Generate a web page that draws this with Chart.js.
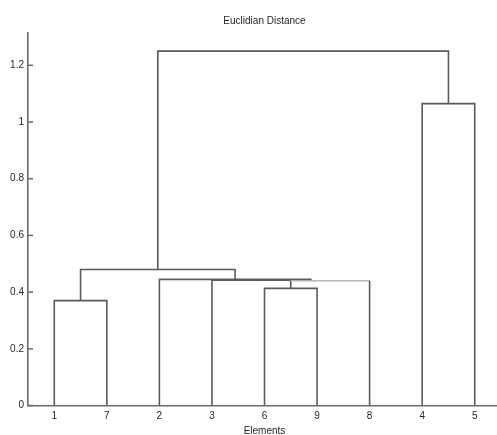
<!DOCTYPE html>
<html>
<head>
<meta charset="utf-8">
<script src="https://cdn.jsdelivr.net/npm/chart.js@4.4.1/dist/chart.umd.min.js"></script>
<style>
  html, body { margin: 0; padding: 0; background: #fff; overflow: hidden; }
  #wrap { width: 501px; height: 435px; }
</style>
</head>
<body>
<div id="wrap"><canvas id="dendro" width="501" height="435"></canvas></div>
<script>
// leaf order along the x axis
const leaves = ["1", "7", "2", "3", "6", "9", "8", "4", "5"];

// one entry per link (U shape): left leg, right leg, merge height, leg bottoms
const linkLeftX = [1, 5, 5.5, 4, 3, 1.5, 8, 2.97];
const linkRightX = [2, 6, 7, 5.88, 5.88, 4.44, 9, 8.5];
const linkHeight = [0.37, 0.413, 0.44, 0.442, 0.445, 0.48, 1.065, 1.25];
const linkLeftBase = [0, 0, 0.413, 0, 0, 0.37, 0, 0.48];
const linkRightBase = [0, 0, 0, 0.44, 0.442, 0.445, 0, 1.065];

const yTicks = [0, 0.2, 0.4, 0.6, 0.8, 1, 1.2];

const lineColor = "#5a5a5a";
const axisColor = "#6a6a6a";
const textColor = "#262626";
const fontFamily = "'Liberation Sans', Arial, sans-serif";

var datasets = linkHeight.map(function (h, i) {
  return {
    data: [
      { x: linkLeftX[i], y: linkLeftBase[i] },
      { x: linkLeftX[i], y: h },
      { x: linkRightX[i], y: h },
      { x: linkRightX[i], y: linkRightBase[i] },
    ],
    showLine: true,
    borderColor: lineColor,
    borderWidth: 1.6,
    pointRadius: 0,
    tension: 0,
    segment: {
      // the (6,9)-8 bar is drawn lighter in the picture
      borderColor: function (ctx) {
        return i === 2 && ctx.p0DataIndex === 1 ? "#b4b4b4" : lineColor;
      },
    },
  };
});

// small inward tick marks on the y axis, like the original
var innerTicks = {
  id: "innerTicks",
  afterDraw: function (chart) {
    var ys = chart.scales.y;
    var ctx = chart.ctx;
    ctx.save();
    ctx.strokeStyle = axisColor;
    ctx.lineWidth = 1.5;
    ys.ticks.forEach(function (t) {
      var py = ys.getPixelForValue(t.value);
      ctx.beginPath();
      ctx.moveTo(ys.right, py);
      ctx.lineTo(ys.right + 5, py);
      ctx.stroke();
    });
    ctx.restore();
  },
};

var ctx = document.getElementById("dendro").getContext("2d");
var chart = new Chart(ctx, {
  type: "scatter",
  data: { datasets: datasets },
  plugins: [innerTicks],
  options: {
    responsive: false,
    animation: false,
    layout: { padding: 0 },
    plugins: {
      legend: { display: false },
      tooltip: { enabled: false },
    },
    scales: {
      x: {
        type: "linear",
        position: "bottom",
        min: 0.5,
        max: 9.5,
        afterBuildTicks: function (s) {
          s.ticks = leaves.map(function (l, i) { return { value: i + 1 }; });
        },
        afterFit: function (s) { s.height = 29.5; },
        grid: { display: false, drawTicks: false },
        border: { display: true, color: axisColor, width: 1.6 },
        ticks: {
          padding: 5,
          maxRotation: 0,
          autoSkip: false,
          color: textColor,
          font: { family: fontFamily, size: 10 },
          callback: function (v) { return leaves[v - 1]; },
        },
        title: {
          display: true,
          text: "Elements",
          color: textColor,
          font: { family: fontFamily, size: 10 },
          padding: { top: 0, bottom: -2 },
        },
      },
      x2: {
        type: "linear",
        position: "top",
        min: 0.5,
        max: 9.5,
        afterFit: function (s) { s.height = 33; },
        grid: { display: false, drawTicks: false },
        border: { display: false },
        ticks: { display: false },
        title: {
          display: true,
          text: "Euclidian Distance",
          color: textColor,
          font: { family: fontFamily, size: 10 },
          padding: { top: 15, bottom: 0 },
        },
      },
      y: {
        min: 0,
        max: 1.314,
        afterBuildTicks: function (s) {
          s.ticks = yTicks.map(function (v) { return { value: v }; });
        },
        afterFit: function (s) { s.width = 28; },
        grid: { display: false, drawTicks: false },
        border: { display: true, color: axisColor, width: 1.6 },
        ticks: {
          padding: 4,
          color: textColor,
          font: { family: fontFamily, size: 10 },
          callback: function (v) { return String(v); },
        },
      },
    },
  },
});
</script>
</body>
</html>
